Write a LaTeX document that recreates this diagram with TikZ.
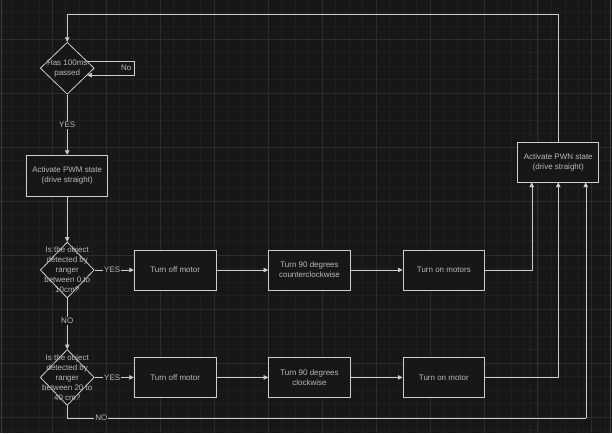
\documentclass[tikz,border=0pt]{standalone}
\usepackage{fontspec}
\setmainfont{Liberation Sans}
\usetikzlibrary{shapes.geometric,arrows.meta}

\definecolor{bg}{RGB}{23,23,23}
\definecolor{minorgrid}{RGB}{31,31,31}
\definecolor{majorgrid}{RGB}{44,44,44}
\definecolor{edgegray}{RGB}{62,62,62}
\definecolor{linegray}{RGB}{205,205,205}
\definecolor{textgray}{RGB}{185,185,185}

\begin{document}
\begin{tikzpicture}[x=1pt,y=-1pt,font=\fontsize{8}{10}\selectfont,
	>={Triangle[length=4.5pt,width=4.5pt]},
	box/.style={draw=linegray,fill=bg,line width=0.8pt,minimum width=82pt,minimum height=40pt,text=textgray,align=center,inner sep=1pt},
	decision/.style={diamond,draw=linegray,fill=bg,line width=0.8pt,minimum width=54pt,minimum height=52pt,inner sep=0pt},
	lbl/.style={fill=bg,text=textgray,inner sep=1pt}]

	% background and grid
	\fill[bg] (0,0) rectangle (612,433);
	\foreach \k in {0,...,44} \draw[minorgrid,line width=0.5pt] ({11.5+13.5*\k},0) -- ++(0,433);
	\foreach \k in {0,...,31} \draw[minorgrid,line width=0.5pt] (0,{12+13.5*\k}) -- ++(612,0);
	\foreach \k in {0,...,10} \draw[majorgrid,line width=0.6pt] ({52+54*\k},0) -- ++(0,433);
	\foreach \k in {0,...,7} \draw[majorgrid,line width=0.6pt] (0,{39+54*\k}) -- ++(612,0);
	\draw[majorgrid,dotted] (530,0) -- (530,433);
	\draw[edgegray] (0.8,0) -- (0.8,433);
	\draw[edgegray] (610,0) -- (610,433);

	\node[decision,label={[text=textgray,align=center]center:Has 100ms\\passed}] at (67,68) (1) {};
	\node[box,minimum width=81pt,minimum height=41pt] at (67,175.5) (2) {Activate PWM state\\(drive straight)};

	\node[decision,minimum height=56pt,label={[text=textgray,align=center]center:Is the object\\detected by\\ranger\\between 0 to\\10cm?}] at (67,270) (3) {};
	\node[box] at (175,270) (4) {Turn off motor};
	\node[box] at (309.5,270) (5) {Turn 90 degrees\\counterclockwise};
	\node[box] at (444,270) (6) {Turn on motors};

	\node[decision,minimum height=56pt,label={[text=textgray,align=center]center:Is the object\\detected by\\ranger\\between 20 to\\40 cm?}] at (67,377.5) (7) {};
	\node[box] at (175,377.5) (8) {Turn off motor};
	\node[box] at (309.5,377.5) (9) {Turn 90 degrees\\clockwise};
	\node[box] at (444,377.5) (10) {Turn on motor};

	\node[box,minimum width=81pt] at (558.5,162) (11) {Activate PWN state\\(drive straight)};

	\coordinate (top) at (0,14);
	\coordinate (bottom) at (586,418);

	\draw[linegray,->] (1.19) -- ++(47,0) |- (1.-19);
	\node[text=textgray] at (126,68) (12) {No};

	\draw[linegray,->] (1.south) to node[lbl,pos=0.5]{YES} (2.north);
	\draw[linegray,->] (2.south) to (3.north);

	\draw[linegray,->] (3.east) to node[lbl,pos=0.45]{YES} (4.west);
	\draw[linegray,->] (4.east) to (5.west);
	\draw[linegray,->] (5.east) to (6.west);
	\draw[linegray,->] (6.east) -| ([xshift=-26.5pt]11.south);

	\draw[linegray,->] (3.south) to node[lbl,pos=0.45]{NO} (7.north);

	\draw[linegray,->] (7.east) to node[lbl,pos=0.45]{YES} (8.west);
	\draw[linegray,->] (8.east) to (9.west);
	\draw[linegray,->] (9.east) to (10.west);
	\draw[linegray,->] (10.east) -| (11.south);

	\draw[linegray] (7.south) |- node[lbl,pos=0.533]{NO} (bottom);
	\draw[linegray,->] (bottom) to ([xshift=27.5pt]11.south);

	\draw[linegray,->] (11.north) |- (1.north |- top) to (1.north);
\end{tikzpicture}
\end{document}
